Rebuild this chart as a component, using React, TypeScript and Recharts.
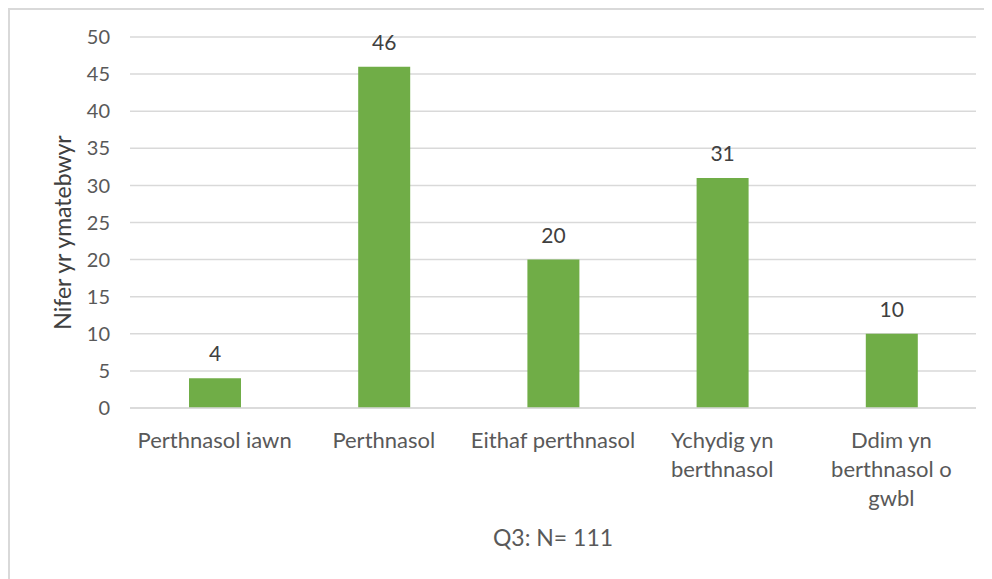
import { BarChart, Bar, XAxis, YAxis, CartesianGrid, LabelList, Label } from "recharts";

const categories = [
  "Perthnasol iawn",
  "Perthnasol",
  "Eithaf perthnasol",
  "Ychydig yn berthnasol",
  "Ddim yn berthnasol o gwbl",
];
// how each category label wraps under the axis
const categoryLines = [
  ["Perthnasol iawn"],
  ["Perthnasol"],
  ["Eithaf perthnasol"],
  ["Ychydig yn", "berthnasol"],
  ["Ddim yn", "berthnasol o", "gwbl"],
];
const counts = [4, 46, 20, 31, 10];
const yTicks = [0, 5, 10, 15, 20, 25, 30, 35, 40, 45, 50];

const data = categories.map((name, i) => ({ name, count: counts[i] }));

const FONT = "Lato, 'Open Sans', sans-serif";
const GREY = "#595959";

function CategoryTick(props: any) {
  const { x, y, payload } = props;
  const lines = categoryLines[payload.index] || [payload.value];
  return (
    <text x={x} y={y} textAnchor="middle" fill={GREY} fontSize={22} fontFamily={FONT}>
      {lines.map((line, i) => (
        <tspan key={i} x={x} dy={i === 0 ? 32 : 29}>
          {line}
        </tspan>
      ))}
    </text>
  );
}

export default function App() {
  return (
    <div
      style={{
        width: 982,
        height: 569,
        borderTop: "2px solid #d9d9d9",
        borderLeft: "2px solid #d9d9d9",
        background: "#fff",
      }}
    >
      <BarChart
        width={982}
        height={569}
        data={data}
        margin={{ top: 27, right: 16, bottom: 0, left: 0 }}
      >
        <CartesianGrid vertical={false} stroke="#d9d9d9" strokeWidth={1.5} />
        <XAxis
          dataKey="name"
          axisLine={{ stroke: "#d9d9d9", strokeWidth: 1.5 }}
          tickLine={false}
          height={171}
          interval={0}
          tick={<CategoryTick />}
        >
          <Label
            content={(p: any) => {
              const vb = p.viewBox;
              return (
                <text
                  x={vb.x + vb.width / 2}
                  y={vb.y + vb.height - 33}
                  textAnchor="middle"
                  fill={GREY}
                  fontSize={23}
                  fontFamily={FONT}
                >
                  Q3: N= 111
                </text>
              );
            }}
          />
        </XAxis>
        <YAxis
          domain={[0, 50]}
          ticks={yTicks}
          width={120}
          axisLine={false}
          tickLine={false}
          tickMargin={14}
          tick={{ fill: GREY, fontSize: 20, fontFamily: FONT }}
        >
          <Label
            content={(p: any) => {
              const vb = p.viewBox;
              const cx = 52;
              const cy = vb.y + vb.height / 2 + 10;
              return (
                <text
                  x={cx}
                  y={cy}
                  textAnchor="middle"
                  dominantBaseline="central"
                  transform={`rotate(-90, ${cx}, ${cy})`}
                  fill="#404040"
                  fontSize={23}
                  fontFamily={FONT}
                >
                  Nifer yr ymatebwyr
                </text>
              );
            }}
          />
        </YAxis>
        <Bar dataKey="count" fill="#70ad47" barSize={52} isAnimationActive={false}>
          <LabelList
            dataKey="count"
            position="top"
            offset={17}
            fill="#404040"
            fontSize={21}
            fontFamily={FONT}
          />
        </Bar>
      </BarChart>
    </div>
  );
}
